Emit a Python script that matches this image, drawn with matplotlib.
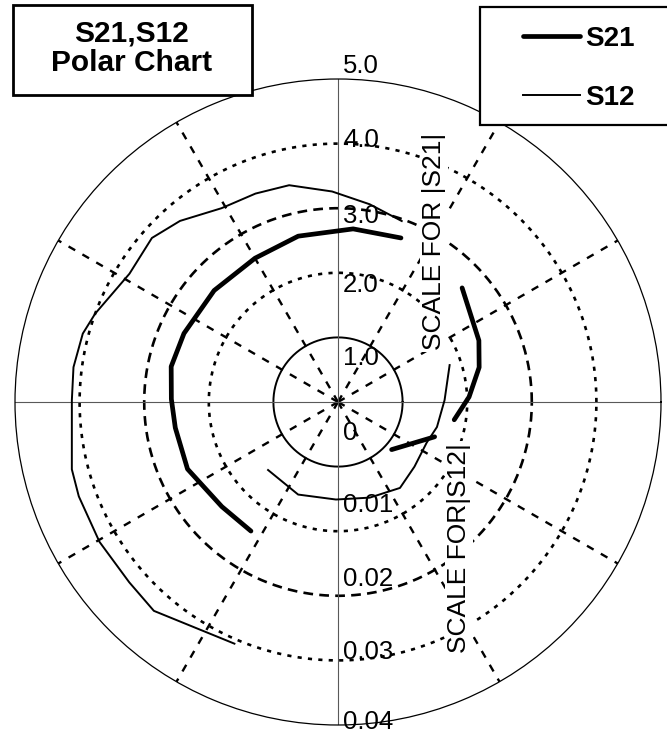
import numpy as np
import matplotlib
matplotlib.use("Agg")
import matplotlib.pyplot as plt
from matplotlib.patches import Rectangle
from matplotlib.transforms import offset_copy

plt.rcParams['font.family'] = ['Liberation Sans', 'DejaVu Sans']
plt.rcParams['lines.scale_dashes'] = False

nan = np.nan

# --- data (phase in degrees, magnitude on the |S21| ring scale) ---------------
s21_phase = [236, 222, 204, 189, 179, 168, 156, 138, 120, 103.5, 85, 69,
             nan, 42.6, 23.6, 13.8, 2.2, -8.7, nan, -19.8, -41.6]
s21_mag = [2.41, 2.42, 2.55, 2.55, 2.58, 2.64, 2.61, 2.58, 2.57, 2.64, 2.69, 2.72,
           nan, 2.61, 2.38, 2.25, 2.03, 1.82, nan, 1.59, 1.11]

s12_phase = [246.8, 228.6, 220.8, 210.4, 200, 194.2, 179.6, 172.5, 165, 160,
             148.4, 138.6, 131.1, 121, 111.6, 102.7, 91.6, 80.9, 70.6,
             nan, 18.3, 1, -14.2, -24.7, -40.2, -54.2, -71.6, -91.2, -113.3, -135.8]
s12_mag = [4.07, 4.31, 4.27, 4.28, 4.27, 4.25, 4.12, 4.13, 4.09, 4.0,
           3.79, 3.84, 3.72, 3.50, 3.47, 3.44, 3.26, 3.10, 2.97,
           nan, 1.82, 1.65, 1.58, 1.51, 1.55, 1.64, 1.56, 1.51, 1.56, 1.51]

s21_scale_labels = ['1.0', '2.0', '3.0', '4.0', '5.0']
s12_scale_labels = ['0', '0.01', '0.02', '0.03', '0.04']
spoke_angles = [30, 60, 120, 150, 210, 240, 300, 330]

# where the scale labels sit (radius along the vertical axis)
s21_label_r = [0.68, 1.81, 2.88, 4.06, 5.2]
s12_label_r = [0.48, 1.59, 2.74, 3.87, 4.95]

# --- figure -------------------------------------------------------------------
W, H = 667, 733
fig = plt.figure(figsize=(W / 100, H / 100), dpi=100)
cx, cy, R = 338, 402, 323
ax = fig.add_axes([(cx - R) / W, (H - cy - R) / H, 2 * R / W, 2 * R / H],
                  projection='polar')
ax.set_ylim(0, 5)
ax.set_xticks([])
ax.set_yticks([])
ax.grid(False)
ax.spines['polar'].set_linewidth(0.9)

# rings
th = np.linspace(0, 2 * np.pi, 500)
ring_styles = {1: ('-', 1.4), 2: ((0, (3, 4.5)), 1.9),
               3: ((0, (7, 4.5)), 1.9), 4: ((0, (3, 4.5)), 1.9)}
for r, (ls, lw) in ring_styles.items():
    ax.plot(th, np.full_like(th, r), color='black', ls=ls, lw=lw)

# spokes + axes cross
for a in spoke_angles:
    ax.plot(np.radians([a, a]), [0, 5], color='black', ls=(0, (5.5, 6)), lw=1.7)
for a in [0, 90, 180, 270]:
    ax.plot(np.radians([a, a]), [0, 5], color='0.35', lw=0.8)

# curves
l21, = ax.plot(np.radians(s21_phase), s21_mag, color='black', lw=3.4,
               solid_capstyle='round')
l12, = ax.plot(np.radians(s12_phase), s12_mag, color='black', lw=1.4)

# scale labels
trans = offset_copy(ax.transData, fig=fig, x=5, y=0, units='dots')
for lab, r in zip(s21_scale_labels, s21_label_r):
    ax.text(np.pi / 2, r, lab, transform=trans, ha='left', va='center', fontsize=18.5)
for lab, r in zip(s12_scale_labels, s12_label_r):
    ax.text(np.pi / 2 * 3, r, lab, transform=trans, ha='left', va='center', fontsize=18.5)

fig.text(434 / W, 1 - 241 / H, 'SCALE FOR |S21|', rotation=90, ha='center',
         va='center', fontsize=19, bbox=dict(fc='white', ec='none', pad=1.5))
fig.text(459 / W, 1 - 548 / H, 'SCALE FOR|S12|', rotation=90, ha='center',
         va='center', fontsize=19, bbox=dict(fc='white', ec='none', pad=1.5))

# title box
fig.add_artist(Rectangle((13 / W, 1 - 95 / H), 239 / W, 90 / H,
                         transform=fig.transFigure, fc='white', ec='black',
                         lw=2, zorder=2))
fig.text(132 / W, 1 - 48 / H, 'S21,S12\nPolar Chart', ha='center', va='center',
         fontsize=21.5, fontweight='bold', linespacing=1.05, zorder=3)

# legend box
fig.add_artist(Rectangle((480 / W, 1 - 125 / H), 200 / W, 118 / H,
                         transform=fig.transFigure, fc='white', ec='black',
                         lw=1.6, zorder=2))
fig.legend(handles=[l21, l12], labels=['S21', 'S12'], loc='center left',
           bbox_to_anchor=(523 / W, 1 - 68.5 / H), frameon=False, borderpad=0,
           borderaxespad=0, handlelength=2.05, handletextpad=0.18,
           labelspacing=1.18, prop={'weight': 'bold', 'size': 20})

fig.savefig('out.png', dpi=100, facecolor='white')
